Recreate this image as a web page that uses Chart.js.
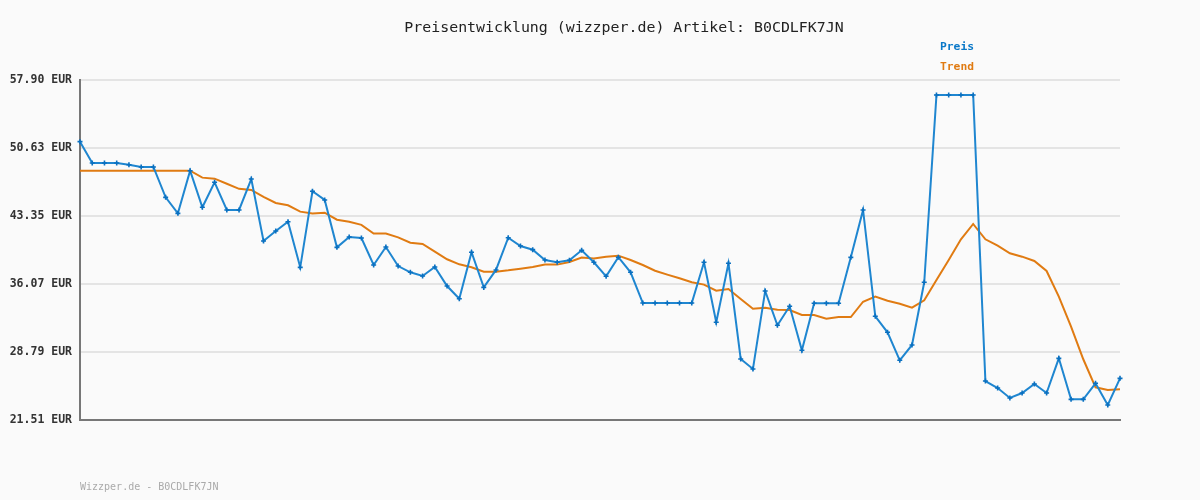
<!DOCTYPE html>
<html>
<head>
<meta charset="utf-8">
<script src="https://cdn.jsdelivr.net/npm/chart.js@4/dist/chart.umd.min.js"></script>
<style>
html,body{margin:0;padding:0;background:#fafafa;}
#wrap{width:1200px;height:500px;position:relative;}
</style>
</head>
<body>
<div id="wrap"><canvas id="c" width="1200" height="500"></canvas></div>
<script>
const titleText = 'Preisentwicklung (wizzper.de) Artikel: B0CDLFK7JN';
const footerText = 'Wizzper.de - B0CDLFK7JN';
const seriesNames = ['Preis', 'Trend'];
const yTicks = [21.51, 28.79, 36.07, 43.35, 50.63, 57.90];

const preis = [
  51.30, 49.02, 49.02, 49.02, 48.83, 48.59, 48.59, 45.34, 43.63, 48.19,
  44.28, 46.95, 43.99, 43.99, 47.30, 40.67, 41.74, 42.73, 37.85, 45.99,
  45.06, 39.99, 41.10, 40.99, 38.10, 40.03, 37.99, 37.32, 36.92, 37.89,
  35.85, 34.49, 39.46, 35.70, 37.57, 41.02, 40.13, 39.74, 38.63, 38.39,
  38.60, 39.67, 38.39, 36.89, 38.93, 37.32, 34.03, 34.03, 34.03, 34.03,
  34.03, 38.39, 31.97, 38.28, 28.04, 26.97, 35.32, 31.65, 33.68, 28.97,
  34.00, 34.00, 34.00, 38.92, 43.99, 32.61, 30.90, 27.90, 29.54, 36.25,
  56.29, 56.29, 56.29, 56.29, 25.68, 24.93, 23.87, 24.40, 25.36, 24.40,
  28.11, 23.72, 23.72, 25.44, 23.12, 25.97
];

const trend = [
  48.19, 48.19, 48.19, 48.19, 48.19, 48.19, 48.19, 48.19, 48.19, 48.19,
  47.45, 47.34, 46.80, 46.25, 46.13, 45.38, 44.74, 44.49, 43.81, 43.60,
  43.70, 42.95, 42.72, 42.40, 41.47, 41.47, 41.06, 40.49, 40.35, 39.53,
  38.71, 38.17, 37.85, 37.38, 37.38, 37.53, 37.71, 37.89, 38.14, 38.14,
  38.42, 38.89, 38.79, 38.99, 39.10, 38.63, 38.10, 37.49, 37.07, 36.68,
  36.25, 36.00, 35.35, 35.53, 34.46, 33.42, 33.53, 33.32, 33.28, 32.75,
  32.75, 32.36, 32.53, 32.53, 34.17, 34.71, 34.28, 33.96, 33.53, 34.32,
  36.49, 38.63, 40.85, 42.49, 40.85, 40.17, 39.35, 38.99, 38.53, 37.46,
  34.71, 31.50, 28.01, 25.01, 24.72, 24.79
];

const categories = preis.map((_, i) => String(i + 1));

const BLUE = '#1f86d0';
const ORANGE = '#e07b12';
const MONO = '"DejaVu Sans Mono", "Liberation Mono", monospace';

const textPlugin = {
  id: 'texts',
  beforeDraw(chart) {
    const ctx = chart.ctx;
    ctx.save();
    ctx.fillStyle = '#fafafa';
    ctx.fillRect(0, 0, chart.width, chart.height);
    ctx.restore();
  },
  afterDraw(chart) {
    const ctx = chart.ctx;
    ctx.save();
    ctx.textBaseline = 'middle';
    ctx.textAlign = 'center';
    ctx.font = '500 14.9px ' + MONO;
    ctx.fillStyle = '#222';
    ctx.fillText(titleText, 624, 28);
    ctx.font = 'bold 11.3px ' + MONO;
    const legendColors = ['#0a78c8', '#e07b12'];
    chart.data.datasets.forEach((ds, i) => {
      ctx.fillStyle = legendColors[i];
      ctx.fillText(ds.label, 957, 47 + i * 20);
    });
    ctx.textAlign = 'left';
    ctx.font = '10px ' + MONO;
    ctx.fillStyle = '#aaa';
    ctx.fillText(footerText, 80, 487);
    ctx.restore();
  }
};

new Chart(document.getElementById('c'), {
  type: 'line',
  data: {
    labels: categories,
    datasets: [
      {
        label: seriesNames[0],
        data: preis,
        borderColor: BLUE,
        backgroundColor: BLUE,
        borderWidth: 2,
        tension: 0,
        pointStyle: 'cross',
        pointRadius: 2.5,
        pointBorderWidth: 1.6,
        pointBorderColor: '#0a70c0',
        clip: false,
        order: 1
      },
      {
        label: seriesNames[1],
        data: trend,
        borderColor: ORANGE,
        backgroundColor: ORANGE,
        borderWidth: 2,
        tension: 0,
        pointRadius: 0,
        clip: false,
        order: 2
      }
    ]
  },
  options: {
    responsive: false,
    animation: false,
    devicePixelRatio: 1,
    layout: { padding: { top: 80, right: 80, bottom: 80, left: 0 } },
    plugins: {
      legend: { display: false },
      title: { display: false },
      tooltip: { enabled: false }
    },
    scales: {
      x: {
        offset: false,
        ticks: { display: false },
        grid: { display: false, drawTicks: false },
        border: { display: true, color: '#777', width: 2 },
        afterFit: s => { s.height = 0; }
      },
      y: {
        min: yTicks[0],
        max: yTicks[yTicks.length - 1],
        afterBuildTicks: s => { s.ticks = yTicks.map(v => ({ value: v })); },
        ticks: {
          callback: v => Number(v).toFixed(2) + ' EUR',
          font: { family: MONO, size: 11.5, weight: 'bold' },
          color: '#333',
          padding: 8
        },
        grid: { color: '#e4e4e4', lineWidth: 2, drawTicks: false },
        border: { display: true, color: '#777', width: 2 },
        afterFit: s => { s.width = 80; }
      }
    }
  },
  plugins: [textPlugin]
});
</script>
</body>
</html>
